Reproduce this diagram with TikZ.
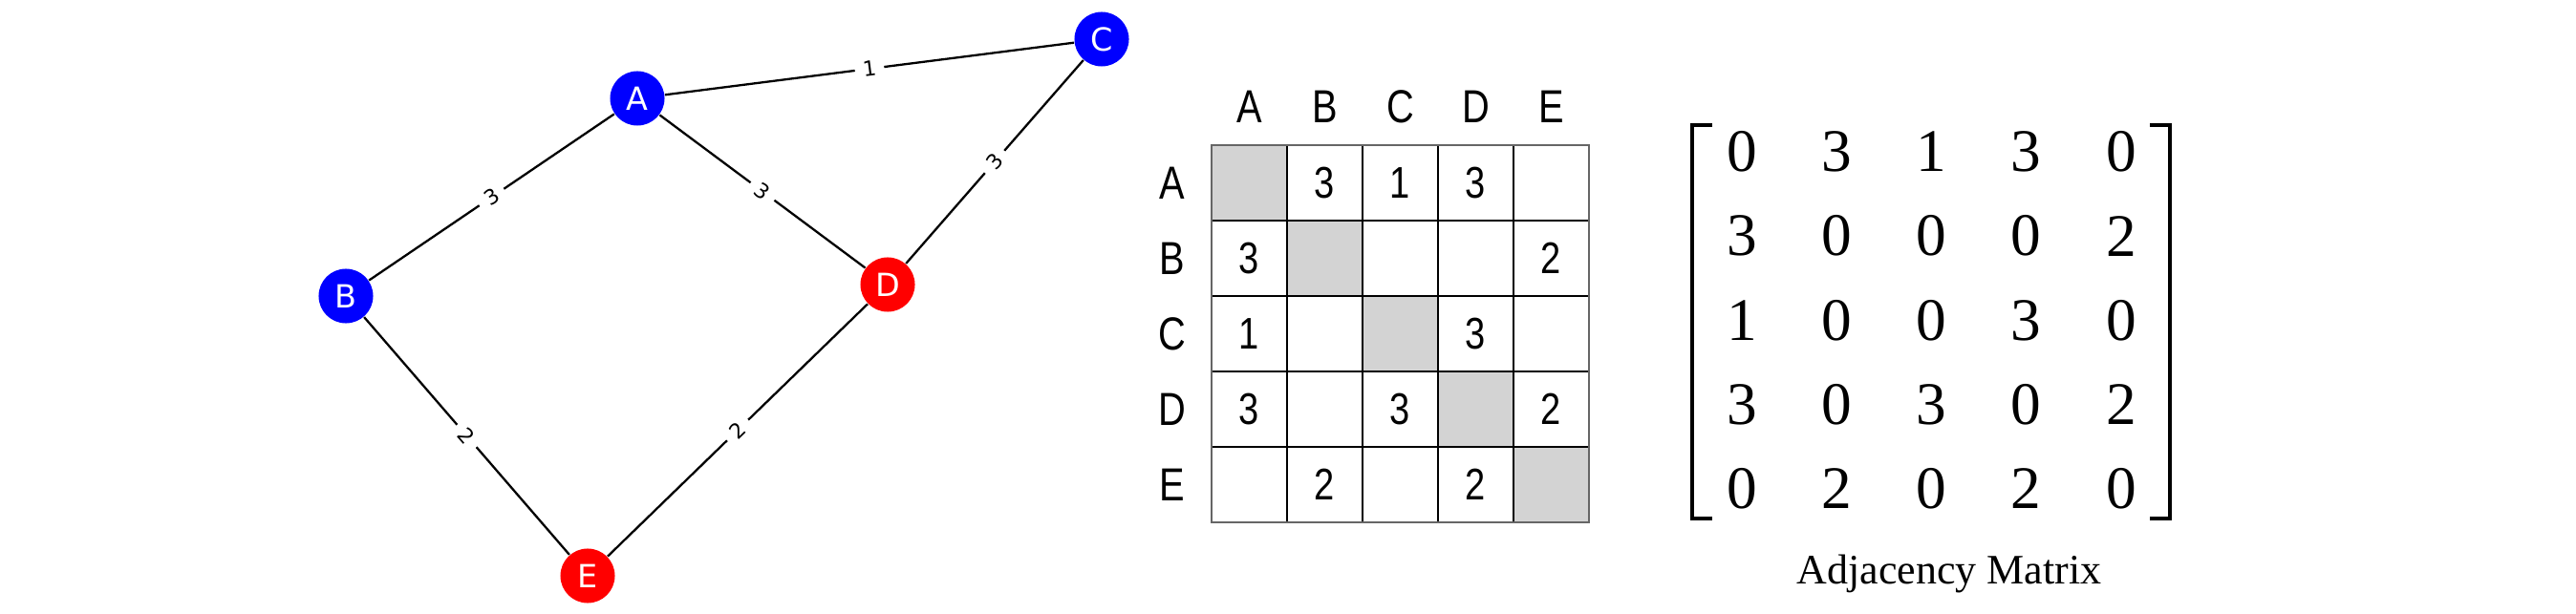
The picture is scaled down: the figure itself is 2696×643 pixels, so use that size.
\documentclass[tikz,border=0pt]{standalone}
\usepackage{fontspec}
\setmainfont{Liberation Serif}
\newfontfamily\graphfont{DejaVu Sans}
\newfontfamily\tablefont{Liberation Sans}[FakeStretch=0.82]

\definecolor{vblue}{RGB}{0,0,255}
\definecolor{vred}{RGB}{255,0,0}
\definecolor{diaggray}{RGB}{211,211,211}

\tikzset{
  vertex/.style={circle, inner sep=0pt, minimum size=0.57cm, text=white,
    font=\graphfont\fontsize{9.5}{10}\selectfont},
  edge/.style={line width=0.65pt},
  weight/.style={sloped, midway, fill=white, inner sep=2.4pt,
    font=\graphfont\fontsize{6.2}{7}\selectfont},
  hdr/.style={inner sep=0pt, font=\tablefont\fontsize{13.8}{15}\selectfont},
  cellnum/.style={inner sep=0pt, font=\tablefont\fontsize{13.2}{15}\selectfont},
  mnum/.style={inner sep=0pt, font=\fontsize{18}{20}\selectfont},
  bracket/.style={line width=1.1pt}
}

\begin{document}
\begin{tikzpicture}[x=0.01cm, y=-0.01cm]
  \useasboundingbox (0,0) rectangle (2696,643);

  % graph
  \node[vertex, fill=vblue] (A) at (667,103) {A};
  \node[vertex, fill=vblue] (B) at (362,310) {B};
  \node[vertex, fill=vblue] (C) at (1153,41) {C};
  \node[vertex, fill=vred] (D) at (929,298) {D};
  \node[vertex, fill=vred] (E) at (615,603) {E};

  \draw[edge] (A) -- node[weight] {1} (C);
  \draw[edge] (A) -- node[weight] {3} (B);
  \draw[edge] (A) -- node[weight] {3} (D);
  \draw[edge] (C) -- node[weight] {3} (D);
  \draw[edge] (B) -- node[weight] {2} (E);
  \draw[edge] (D) -- node[weight] {2} (E);

  % weight table
  \foreach \i in {0,...,4}
    \fill[diaggray] (1268+79*\i,152+79*\i) rectangle +(79,79);
  \foreach \i in {1,...,4} {
    \draw[line width=0.8pt] (1268+79*\i,152) -- (1268+79*\i,547);
    \draw[line width=0.8pt] (1268,152+79*\i) -- (1663,152+79*\i);
  }
  \draw[gray!80!black, line width=0.6pt] (1268,152) rectangle (1663,547);

  \foreach \l [count=\i from 0] in {A,B,C,D,E} {
    \node[hdr] (col\l) at (1307.5+79*\i,112) {\l};
    \node[hdr] (row\l) at (1227,191.5+79*\i) {\l};
  }
  \foreach \r/\c/\v in {0/1/3, 0/2/1, 0/3/3, 1/0/3, 1/4/2, 2/0/1, 2/3/3,
                        3/0/3, 3/2/3, 3/4/2, 4/1/2, 4/3/2}
    \node[cellnum] (t\r\c) at (1307.5+79*\c,191.5+79*\r) {\v};

  % adjacency matrix
  \draw[bracket] (1792,131) -- (1771,131) -- (1771,543) -- (1792,543);
  \draw[bracket] (2250,131) -- (2271,131) -- (2271,543) -- (2250,543);
  \foreach \row [count=\r from 0] in {{0,3,1,3,0},{3,0,0,0,2},{1,0,0,3,0},
                                      {3,0,3,0,2},{0,2,0,2,0}}
    \foreach \v [count=\c from 0] in \row
      \node[mnum] (m\r\c) at (1823+99.25*\c,159+88.25*\r) {\v};

  \node[anchor=base, font=\fontsize{12.5}{14}\selectfont] (mlabel) at (2040,612) {Adjacency Matrix};
\end{tikzpicture}
\end{document}
